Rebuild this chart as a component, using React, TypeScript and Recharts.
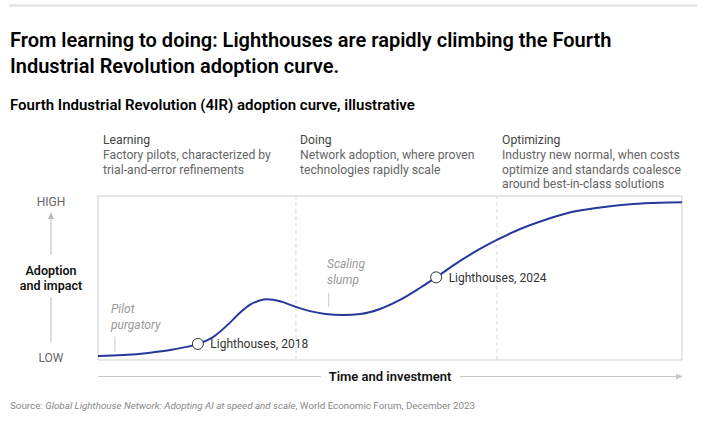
import React from 'react';
import { LineChart, Line, XAxis, YAxis, ReferenceLine, ReferenceDot, ReferenceArea } from 'recharts';

const curveX = [0, 4.3, 8.6, 12.8, 17.1, 19.7, 22.6, 24.3, 26.0, 27.7, 28.9, 31.2, 33.7, 36.3, 38.9, 42.0, 44.9, 48.3, 51.7, 55.1, 57.9, 62.0, 65.4, 68.3, 72.3, 76.5, 80.3, 86.0, 91.6, 96.2, 100];
const curveY = [2.4, 3.0, 4.3, 6.4, 9.8, 14.0, 22.8, 28.8, 33.6, 36.3, 37.0, 35.8, 32.6, 29.8, 28.1, 27.4, 28.0, 31.1, 36.6, 43.9, 50.4, 60.4, 67.7, 73.2, 79.9, 85.4, 89.5, 93.0, 95.1, 95.9, 96.2];

const milestoneLabels = ['Lighthouses, 2018', 'Lighthouses, 2024'];
const milestoneX = [17.1, 57.9];
const milestoneY = [9.8, 50.4];

const phaseDividers = [33.9, 68.3];
const phaseNames = ['Learning', 'Doing', 'Optimizing'];
const phaseDescriptions = [
  ['Factory pilots, characterized by', 'trial-and-error refinements'],
  ['Network adoption, where proven', 'technologies rapidly scale'],
  ['Industry new normal, when costs', 'optimize and standards coalesce', 'around best-in-class solutions'],
];

const noteTickX = [2.9, 39.5];
const noteTickY0 = [5.1, 32.2];
const noteTickY1 = [14.2, 41.0];

const data = curveX.map((x, i) => ({ x, y: curveY[i] }));

const FONT = 'Roboto, "Liberation Sans", Arial, sans-serif';
const W = 720;
const H = 433;
const M = { top: 196, left: 98, right: 38, bottom: 73 };

export default function App() {
  const phaseX = [103, 300, 502];
  return (
    <div style={{ position: 'absolute', left: 0, top: 0, width: W, height: H, background: '#fff', fontFamily: FONT }}>
      <LineChart width={W} height={H} data={data} margin={M}>
        <XAxis dataKey="x" type="number" domain={[0, 100]} hide />
        <YAxis type="number" domain={[0, 100]} hide />
        <ReferenceArea x1={0} x2={100} y1={0} y2={100} fill="none" stroke="#cfcfcf" strokeWidth={1} />
        {phaseDividers.map((d) => (
          <ReferenceLine key={d} x={d} stroke="#dcdcdc" strokeDasharray="4 3" />
        ))}
        {noteTickX.map((x, i) => (
          <ReferenceLine key={'t' + i} segment={[{ x, y: noteTickY0[i] }, { x, y: noteTickY1[i] }]} stroke="#cccccc" />
        ))}
        <Line type="monotone" dataKey="y" stroke="#26399a" strokeWidth={2} dot={false} isAnimationActive={false} />
        {milestoneX.map((x, i) => (
          <ReferenceDot
            key={'m' + i}
            x={x}
            y={milestoneY[i]}
            r={5.5}
            fill="#fff"
            stroke="#333"
            strokeWidth={1}
            label={{ value: milestoneLabels[i], position: 'right', offset: 7, fill: '#333', fontSize: 12, fontFamily: FONT }}
          />
        ))}
      </LineChart>
      <svg width={W} height={H} style={{ position: 'absolute', left: 0, top: 0, pointerEvents: 'none' }} fontFamily={FONT}>
        <line x1={9} y1={5.5} x2={697} y2={5.5} stroke="#dedede" strokeWidth={2} />
        <text x={10} y={47} fontSize={20} fontWeight={600} fill="#000">From learning to doing: Lighthouses are rapidly climbing the Fourth</text>
        <text x={10} y={73} fontSize={20} fontWeight={600} fill="#000">Industrial Revolution adoption curve.</text>
        <text x={10} y={110} fontSize={15} fontWeight={600} fill="#000">Fourth Industrial Revolution (4IR) adoption curve, illustrative</text>
        {phaseNames.map((n, i) => (
          <g key={n}>
            <text x={phaseX[i]} y={144} fontSize={12.2} fill="#444">{n}</text>
            {phaseDescriptions[i].map((t, j) => (
              <text key={j} x={phaseX[i]} y={159 + j * 14.5} fontSize={12.2} fill="#666">{t}</text>
            ))}
          </g>
        ))}
        <text x={51} y={206} fontSize={12} fill="#666" textAnchor="middle">HIGH</text>
        <line x1={51} y1={255} x2={51} y2={216} stroke="#bbb" strokeWidth={1} />
        <polygon points="51,212 48,219 54,219" fill="#bbb" />
        <text x={51} y={275} fontSize={12.5} fontWeight={600} fill="#111" textAnchor="middle">Adoption</text>
        <text x={51} y={290} fontSize={12.5} fontWeight={600} fill="#111" textAnchor="middle">and impact</text>
        <line x1={51} y1={297} x2={51} y2={342} stroke="#bbb" strokeWidth={1} />
        <text x={51} y={362} fontSize={12} fill="#666" textAnchor="middle">LOW</text>
        <text x={111} y={313} fontSize={12} fontStyle="italic" fill="#999">Pilot</text>
        <text x={111} y={329} fontSize={12} fontStyle="italic" fill="#999">purgatory</text>
        <text x={327} y={268} fontSize={12} fontStyle="italic" fill="#999">Scaling</text>
        <text x={327} y={284} fontSize={12} fontStyle="italic" fill="#999">slump</text>
        <line x1={98} y1={376.5} x2={321} y2={376.5} stroke="#c8c8c8" strokeWidth={1} />
        <text x={390} y={381} fontSize={13} fontWeight={600} fill="#111" textAnchor="middle">Time and investment</text>
        <line x1={460} y1={376.5} x2={677} y2={376.5} stroke="#c8c8c8" strokeWidth={1} />
        <polygon points="683,376.5 676,373.5 676,379.5" fill="#c8c8c8" />
        <text x={10} y={409} fontSize={9.8} fill="#888">
          <tspan>Source: </tspan>
          <tspan fontStyle="italic">Global Lighthouse Network: Adopting AI at speed and scale</tspan>
          <tspan>, World Economic Forum, December 2023</tspan>
        </text>
      </svg>
    </div>
  );
}
